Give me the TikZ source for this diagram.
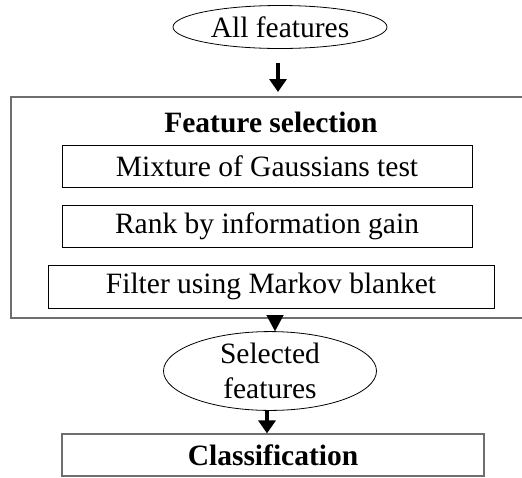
\documentclass[tikz,border=0pt]{standalone}
\usepackage{fontspec}
\setmainfont{Liberation Serif}
\usetikzlibrary{shapes.geometric,arrows.meta}
\definecolor{framegray}{HTML}{6E6E6E}
\tikzset{
  lbl/.style={font=\fontsize{29.5}{35}\selectfont, align=center, inner sep=0pt},
  oval/.style={lbl, ellipse, draw=black, line width=0.8pt},
  stepbox/.style={lbl, draw=black, line width=1pt},
  graybox/.style={lbl, draw=framegray, line width=1.2pt},
  flow/.style={-{Triangle[width=17pt,length=13pt]}, line width=3.5pt, black},
  headonly/.style={-{Triangle[width=17pt,length=16pt]}, line width=0.1pt, black},
}
\begin{document}
\begin{tikzpicture}[x=1pt,y=-1pt]
  \useasboundingbox (0,0) rectangle (522,477);

  % input ellipse
  \node[oval, minimum width=214pt, minimum height=43pt] (allf) at (280,27) {All features};

  % feature selection frame (runs past the right edge)
  \draw[framegray, line width=1.2pt] (535,97) -- (11,97) -- (11,318) -- (535,318);
  \coordinate (fstop) at (278,97);
  \coordinate (fsbot) at (275,317);
  \node[lbl, font=\fontsize{29.5}{35}\selectfont\bfseries] (fstitle) at (271,122) {Feature selection};

  % selection steps
  \node[stepbox, minimum width=410pt, minimum height=42pt] (mog) at (267,166) {Mixture of Gaussians test};
  \node[stepbox, minimum width=410pt, minimum height=42pt] (rank) at (267,226) {Rank by information gain};
  \node[stepbox, minimum width=446pt, minimum height=43pt] (mb) at (271,286.5) {Filter using Markov blanket};

  % selected features
  \node[oval, minimum width=213pt, minimum height=78pt] (sel) at (270,371) {Selected\\features};

  % classification
  \node[graybox, minimum width=422pt, minimum height=42pt, font=\fontsize{29.5}{35}\selectfont\bfseries] (cls) at (273,455) {Classification};

  % connectors
  \draw[flow] ([yshift=-14pt]allf.south -| fstop) -- ([yshift=5pt]fstop);
  \draw[headonly] (fsbot) -- (sel.north -| fsbot);
  \draw[flow] (sel.south -| 267,0) -- (cls.north -| 267,0);
\end{tikzpicture}
\end{document}
